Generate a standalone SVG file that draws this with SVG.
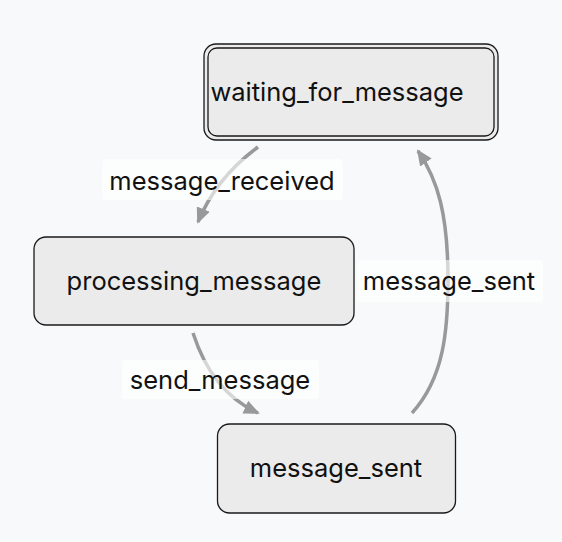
<svg xmlns="http://www.w3.org/2000/svg" width="562" height="542" viewBox="0 0 562 542">
<style>
.node{fill:#ebebeb;stroke:#1a1a1a;stroke-width:1.3}
.t{font-family:Inter,"Liberation Sans",sans-serif;font-size:25.5px;fill:#111;text-anchor:middle;dominant-baseline:central}
.edge{fill:none;stroke:#999;stroke-width:3.5}
.lbg{fill:#ffffff;fill-opacity:0.6}
</style>
<defs>
<marker id="ah" markerUnits="userSpaceOnUse" markerWidth="16" markerHeight="16" viewBox="0 0 16 16" refX="14" refY="8" orient="auto">
<path d="M0,1 L16,8 L0,15 Z" fill="#999"/>
</marker>
</defs>
<rect width="562" height="542" fill="#f8f9fb"/>
<g id="edges">
<path class="edge" d="M258,147 Q216,178 198,222" marker-end="url(#ah)"/>
<path class="edge" d="M193,333 Q212,392 258,413" marker-end="url(#ah)"/>
<path class="edge" d="M412,413 C444,378 448,330 448,280 C448,215 438,180 418,151" marker-end="url(#ah)"/>
</g>
<g id="edge-labels">
<rect class="lbg" x="102" y="159" width="241" height="41" rx="3"/>
<text class="t" x="222" y="180">message_received</text>
<rect class="lbg" x="122" y="360" width="197" height="39" rx="3"/>
<text class="t" x="220" y="379">send_message</text>
<rect class="lbg" x="357" y="260" width="186" height="42" rx="3"/>
<text class="t" x="449" y="280">message_sent</text>
</g>
<g id="waiting_for_message">
<rect class="node" x="204" y="44" width="294" height="96" rx="12" fill="none" stroke-width="2.2"/>
<rect class="node" x="208" y="48" width="286" height="88" rx="9" stroke-width="1.8"/>
<text class="t" x="337" y="91">waiting_for_message</text>
</g>
<g id="processing_message">
<rect class="node" x="34" y="237" width="320" height="88" rx="12"/>
<text class="t" x="194" y="280">processing_message</text>
</g>
<g id="message_sent">
<rect class="node" x="217.5" y="424" width="238" height="89" rx="12"/>
<text class="t" x="336" y="467">message_sent</text>
</g>
</svg>
